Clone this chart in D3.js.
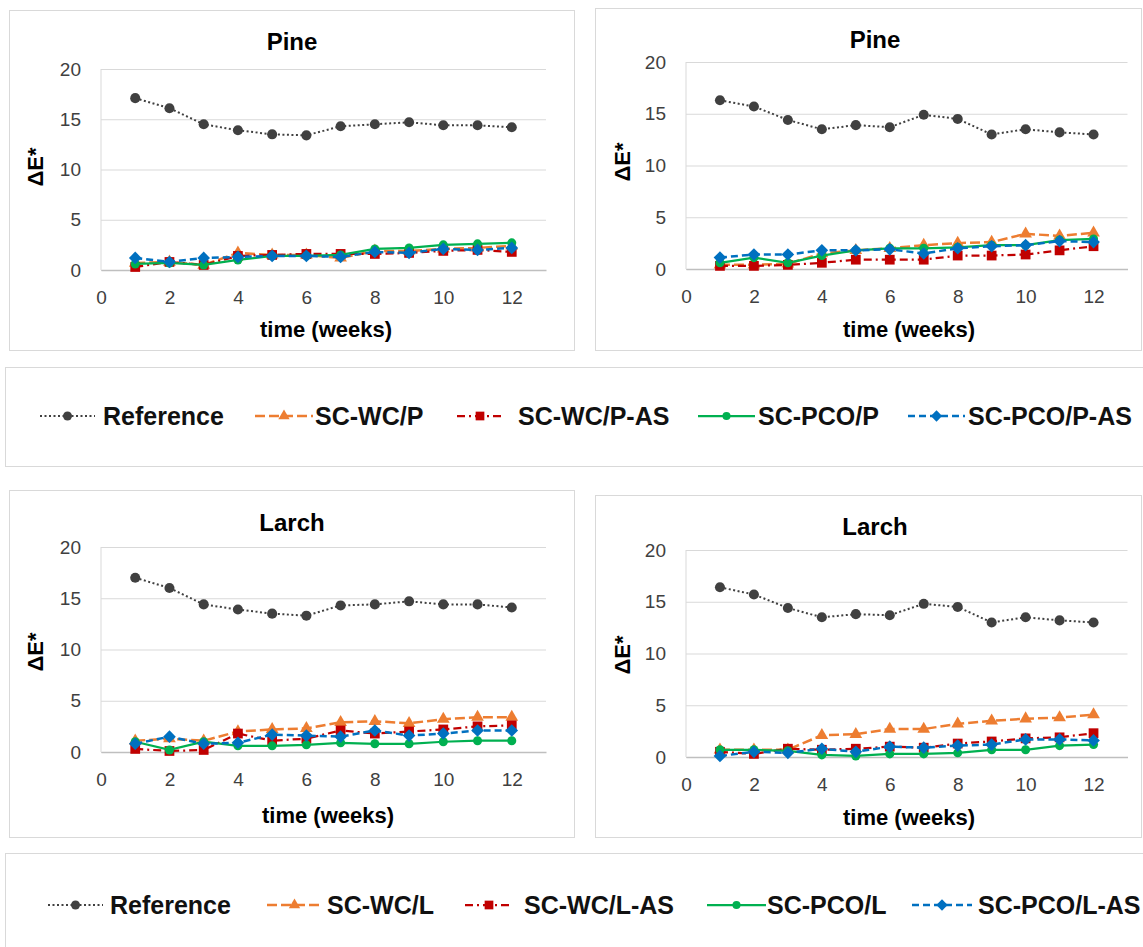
<!DOCTYPE html>
<html>
<head>
<meta charset="utf-8">
<script src="https://cdn.jsdelivr.net/npm/d3@7"></script>
<style>
  body { margin: 0; background: #fff; }
  text { font-family: "Liberation Sans", Arial, sans-serif; }
</style>
</head>
<body>
<div id="chart"></div>
<script>
// ---- data ----
const weeks = [1, 2, 3, 4, 5, 6, 7, 8, 9, 10, 11, 12];
const xTicks = [0, 2, 4, 6, 8, 10, 12];
const yTicks = [0, 5, 10, 15, 20];

// Pine, left panel
const pineL_ref   = [17.1, 16.1, 14.5, 13.9, 13.5, 13.4, 14.3, 14.5, 14.7, 14.4, 14.4, 14.2];
const pineL_wc    = [0.7, 0.8, 0.5, 1.7, 1.5, 1.5, 1.2, 1.9, 1.9, 2.1, 2.2, 2.4];
const pineL_wcas  = [0.3, 0.8, 0.5, 1.4, 1.5, 1.6, 1.6, 1.6, 1.7, 1.9, 2.0, 1.8];
const pineL_pco   = [0.6, 0.7, 0.5, 1.0, 1.4, 1.4, 1.5, 2.1, 2.2, 2.5, 2.6, 2.7];
const pineL_pcoas = [1.2, 0.8, 1.2, 1.3, 1.4, 1.4, 1.3, 1.8, 1.7, 2.1, 2.0, 2.2];

// Pine, right panel
const pineR_ref   = [16.3, 15.7, 14.4, 13.5, 13.9, 13.7, 14.9, 14.5, 13.0, 13.5, 13.2, 13.0];
const pineR_wc    = [0.4, 0.4, 0.5, 1.5, 1.8, 2.0, 2.3, 2.5, 2.6, 3.4, 3.2, 3.5];
const pineR_wcas  = [0.3, 0.3, 0.4, 0.6, 0.9, 0.9, 0.9, 1.3, 1.3, 1.4, 1.8, 2.2];
const pineR_pco   = [0.6, 1.1, 0.6, 1.3, 1.8, 2.0, 2.0, 2.1, 2.3, 2.3, 2.8, 2.9];
const pineR_pcoas = [1.1, 1.4, 1.4, 1.8, 1.8, 1.9, 1.5, 2.0, 2.2, 2.3, 2.7, 2.6];

// Larch, left panel
const larchL_ref   = [17.0, 16.0, 14.4, 13.9, 13.5, 13.3, 14.3, 14.4, 14.7, 14.4, 14.4, 14.1];
const larchL_wc    = [1.1, 1.3, 1.1, 2.0, 2.2, 2.3, 2.9, 3.0, 2.8, 3.2, 3.4, 3.4];
const larchL_wcas  = [0.3, 0.1, 0.2, 1.8, 1.1, 1.3, 2.1, 1.8, 2.0, 2.2, 2.5, 2.6];
const larchL_pco   = [1.0, 0.2, 1.0, 0.6, 0.6, 0.7, 0.9, 0.8, 0.8, 1.0, 1.1, 1.1];
const larchL_pcoas = [0.8, 1.5, 0.8, 0.9, 1.7, 1.6, 1.5, 2.1, 1.6, 1.8, 2.1, 2.1];

// Larch, right panel
const larchR_ref   = [16.4, 15.7, 14.4, 13.5, 13.8, 13.7, 14.8, 14.5, 13.0, 13.5, 13.2, 13.0];
const larchR_wc    = [0.7, 0.7, 0.7, 2.1, 2.2, 2.7, 2.7, 3.2, 3.5, 3.7, 3.8, 4.1];
const larchR_wcas  = [0.5, 0.3, 0.8, 0.7, 0.8, 1.0, 0.9, 1.3, 1.5, 1.8, 1.9, 2.3];
const larchR_pco   = [0.7, 0.7, 0.6, 0.2, 0.1, 0.3, 0.3, 0.4, 0.7, 0.7, 1.1, 1.2];
const larchR_pcoas = [0.1, 0.5, 0.4, 0.8, 0.5, 1.0, 0.9, 1.1, 1.2, 1.7, 1.7, 1.6];

const pineLabels  = ["Reference", "SC-WC/P", "SC-WC/P-AS", "SC-PCO/P", "SC-PCO/P-AS"];
const larchLabels = ["Reference", "SC-WC/L", "SC-WC/L-AS", "SC-PCO/L", "SC-PCO/L-AS"];

// ---- styles (same order as series) ----
const seriesStyles = [
    { color: "#404040", dash: "2,2.5", width: 2,    symbol: "circle",   size: 80 },
    { color: "#ED7D31", dash: "10,4",  width: 2.5,  symbol: "triangle", size: 70 },
    { color: "#C00000", dash: "8,4,2,4", width: 2.25, symbol: "square", size: 95 },
    { color: "#00B050", dash: null,    width: 2.25, symbol: "circle",   size: 64 },
    { color: "#0070C0", dash: "7,4",   width: 2.5,  symbol: "diamond",  size: 80 }
];

function symbolPath(name, size) {
    const types = { circle: d3.symbolCircle, triangle: d3.symbolTriangle, square: d3.symbolSquare, diamond: d3.symbolSquare };
    return d3.symbol().type(types[name]).size(size)();
}

const svg = d3.select("#chart").append("svg")
    .attr("width", 1143)
    .attr("height", 947);

const panels = [
    { box: [9, 10, 565, 340], xr: [101, 546], yr: [270, 69], title: "Pine", tx: 292, ty: 50,
      ylx: 35, yly: 167, xlx: 326, xly: 337,
      series: [pineL_ref, pineL_wc, pineL_wcas, pineL_pco, pineL_pcoas] },
    { box: [595, 8, 546, 342], xr: [686, 1127.5], yr: [269, 62], title: "Pine", tx: 875, ty: 48,
      ylx: 622, yly: 162, xlx: 909, xly: 337,
      series: [pineR_ref, pineR_wc, pineR_wcas, pineR_pco, pineR_pcoas] },
    { box: [9, 490, 565, 347], xr: [101, 546], yr: [752, 547], title: "Larch", tx: 292, ty: 531,
      ylx: 35, yly: 652, xlx: 328, xly: 823,
      series: [larchL_ref, larchL_wc, larchL_wcas, larchL_pco, larchL_pcoas] },
    { box: [595, 495, 546, 342], xr: [686, 1127.5], yr: [757, 550], title: "Larch", tx: 875, ty: 535,
      ylx: 622, yly: 655, xlx: 909, xly: 825,
      series: [larchR_ref, larchR_wc, larchR_wcas, larchR_pco, larchR_pcoas] }
];

panels.forEach(p => {
    const g = svg.append("g");

    g.append("rect")
        .attr("x", p.box[0] + 0.5).attr("y", p.box[1] + 0.5)
        .attr("width", p.box[2]).attr("height", p.box[3])
        .attr("fill", "#fff").attr("stroke", "#d9d9d9");

    const x = d3.scaleLinear().domain([0, 13]).range(p.xr);
    const y = d3.scaleLinear().domain([0, 20]).range(p.yr);

    // y axis + gridlines
    const yAxis = g.append("g")
        .attr("transform", `translate(${p.xr[0]},0)`)
        .call(d3.axisLeft(y).tickValues(yTicks).tickSize(-(p.xr[1] - p.xr[0])).tickPadding(20));
    yAxis.select(".domain").remove();
    yAxis.selectAll(".tick line").attr("stroke", "#d9d9d9");
    yAxis.selectAll(".tick text")
        .style("font-size", "19px").attr("fill", "#404040");

    // left edge of the plot area
    g.append("line")
        .attr("x1", p.xr[0]).attr("x2", p.xr[0])
        .attr("y1", p.yr[1]).attr("y2", p.yr[0])
        .attr("stroke", "#d9d9d9");

    // x axis
    const xAxis = g.append("g")
        .attr("transform", `translate(0,${p.yr[0]})`)
        .call(d3.axisBottom(x).tickValues(xTicks).tickSize(0).tickPadding(21));
    xAxis.select(".domain").attr("stroke", "#bfbfbf").attr("stroke-width", 1.5);
    xAxis.selectAll(".tick text")
        .style("font-size", "19px").attr("fill", "#404040");

    // titles
    g.append("text")
        .attr("x", p.tx).attr("y", p.ty)
        .attr("text-anchor", "middle")
        .style("font-size", "24px").style("font-weight", "bold")
        .text(p.title);

    g.append("text")
        .attr("transform", `translate(${p.ylx},${p.yly}) rotate(-90)`)
        .attr("text-anchor", "middle").attr("dy", "0.35em")
        .style("font-size", "22px").style("font-weight", "bold")
        .text("ΔE*");

    g.append("text")
        .attr("x", p.xlx).attr("y", p.xly)
        .attr("text-anchor", "middle")
        .style("font-size", "22px").style("font-weight", "bold")
        .text("time (weeks)");

    // series
    const line = d3.line().x((d, i) => x(weeks[i])).y(d => y(d));
    p.series.forEach((vals, si) => {
        const st = seriesStyles[si];
        g.append("path")
            .datum(vals)
            .attr("d", line)
            .attr("fill", "none")
            .attr("stroke", st.color)
            .attr("stroke-width", st.width)
            .attr("stroke-dasharray", st.dash);

        g.selectAll(null)
            .data(vals)
            .enter()
            .append("path")
            .attr("d", symbolPath(st.symbol, st.size))
            .attr("transform", (d, i) => `translate(${x(weeks[i])},${y(d)})` + (st.symbol === "diamond" ? " rotate(45)" : ""))
            .attr("fill", st.color);
    });
});

// ---- legends ----
const legends = [
    { box: [5, 367, 1140, 99], baseline: 425, labels: pineLabels,
      lines: [[40, 95], [255, 313], [457, 503], [698, 755], [908, 965]],
      textX: [103, 315, 518, 758, 968] },
    { box: [5, 853, 1140, 95], baseline: 914, labels: larchLabels,
      lines: [[48, 103], [267, 322], [465, 513], [707, 766], [912, 972]],
      textX: [110, 327, 524, 767, 978] }
];

legends.forEach(lg => {
    const g = svg.append("g");
    g.append("rect")
        .attr("x", lg.box[0] + 0.5).attr("y", lg.box[1] + 0.5)
        .attr("width", lg.box[2]).attr("height", lg.box[3])
        .attr("fill", "#fff").attr("stroke", "#d9d9d9");

    const cy = lg.baseline - 9;
    lg.labels.forEach((label, i) => {
        const st = seriesStyles[i];
        const [a, b] = lg.lines[i];
        g.append("line")
            .attr("x1", a).attr("x2", b)
            .attr("y1", cy).attr("y2", cy)
            .attr("stroke", st.color)
            .attr("stroke-width", st.width)
            .attr("stroke-dasharray", st.dash);
        g.append("path")
            .attr("d", symbolPath(st.symbol, st.size * 0.8))
            .attr("transform", `translate(${(a + b) / 2},${cy})` + (st.symbol === "diamond" ? " rotate(45)" : ""))
            .attr("fill", st.color);
        g.append("text")
            .attr("x", lg.textX[i]).attr("y", lg.baseline)
            .style("font-size", "25px").style("font-weight", "bold")
            .attr("fill", "#111")
            .text(label);
    });
});
</script>
</body>
</html>
